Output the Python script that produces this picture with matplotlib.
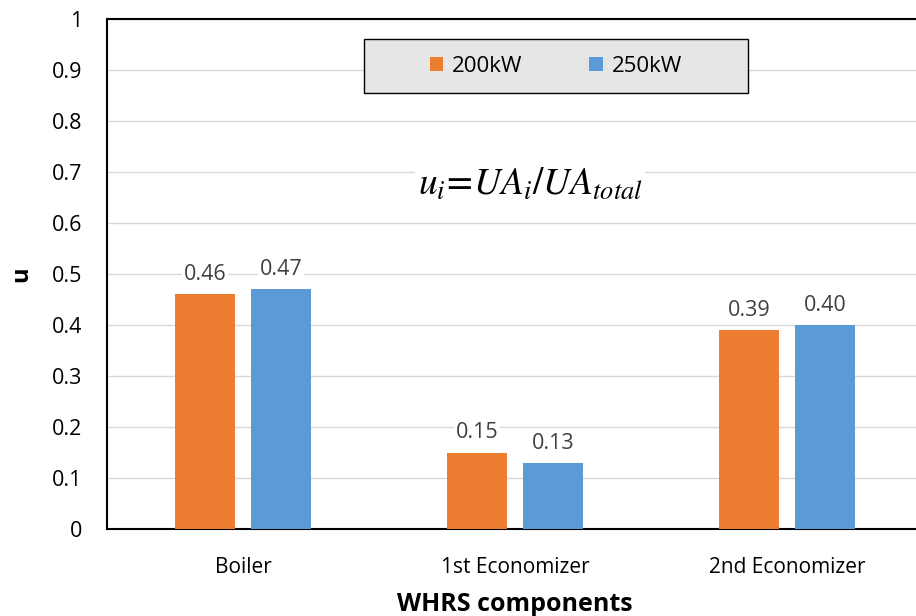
import numpy as np
import matplotlib.pyplot as plt

categories = ["Boiler", "1st Economizer", "2nd Economizer"]
series_names = ["200kW", "250kW"]
u_200 = [0.46, 0.15, 0.39]
u_250 = [0.47, 0.13, 0.40]
colors = ["#ED7D31", "#5B9BD5"]

plt.rcParams['font.family'] = ['Open Sans', 'DejaVu Sans']
plt.rcParams['mathtext.fontset'] = 'stix'

fig = plt.figure(figsize=(9.16, 6.16), dpi=100)
ax = fig.add_axes([107/916, 87/616, 816/916, 510/616])

x = np.arange(len(categories))
w = 0.22
off = 0.14
for vals, name, c, sgn in zip([u_200, u_250], series_names, colors, [-1, 1]):
    bars = ax.bar(x + sgn*off, vals, width=w, color=c, label=name, zorder=3)
    for b, v in zip(bars, vals):
        ax.text(b.get_x() + b.get_width()/2, v + 0.018, "%.2f" % v,
                ha='center', va='bottom', fontsize=15.5, color='#404040', zorder=4,
                bbox=dict(facecolor='white', edgecolor='none', pad=1))

ax.set_xlim(-0.5, 2.5)
ax.set_ylim(0, 1)
ax.set_yticks(np.arange(0, 1.01, 0.1))
ax.set_yticklabels(["0"] + ["%.1f" % v for v in np.arange(0.1, 0.95, 0.1)] + ["1"])
ax.set_xticks(x)
ax.set_xticklabels(categories)
ax.tick_params(axis='x', length=0, labelsize=15, colors='black', pad=20)
ax.tick_params(axis='y', length=0, labelsize=15.5, colors='black', pad=18)
ax.yaxis.grid(True, color='#d9d9d9', lw=1, zorder=0)
ax.set_axisbelow(True)

for s in ['left', 'top', 'bottom']:
    ax.spines[s].set_color('black')
    ax.spines[s].set_linewidth(1.5)
ax.spines['right'].set_visible(False)

ax.set_xlabel("WHRS components", fontsize=18, fontweight='bold', labelpad=10)
ax.set_ylabel("u", fontsize=17, fontweight='bold', va='center')
ax.yaxis.set_label_coords(-(107 - 21)/816, 0.5)

ax.text(530/916, 1 - 185/616, r"$u_i\!=\!UA_i/UA_{total}$", transform=fig.transFigure,
        ha='center', va='center', fontsize=27,
        bbox=dict(facecolor='white', edgecolor='none', pad=2))

leg = fig.legend(loc='center', bbox_to_anchor=(556/916, 1 - 66/616), ncol=2,
                 fontsize=16, frameon=True, fancybox=False, edgecolor='black',
                 facecolor='#e6e6e6', handlelength=0.6, handleheight=0.6,
                 handletextpad=0.4, columnspacing=3.0, borderpad=0.75,
                 borderaxespad=0)
leg.get_frame().set_linewidth(1.0)
leg.get_frame().set_alpha(1)
leg.set_zorder(5)
# stretch the legend box sideways like the reference
fig.canvas.draw()
leg._legend_box.set_width(380 - 30)

fig.savefig("out.png", dpi=100)
